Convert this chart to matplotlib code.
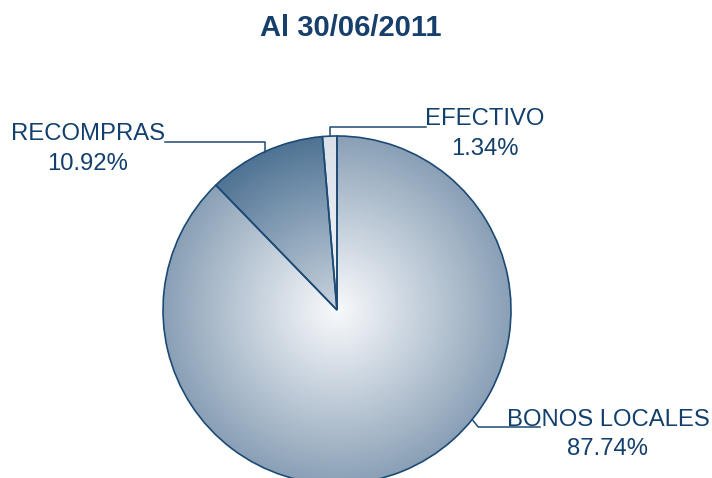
import numpy as np
import matplotlib
matplotlib.use("Agg")
import matplotlib.pyplot as plt
from matplotlib.colors import LinearSegmentedColormap

title = "Al 30/06/2011"
labels = ["BONOS LOCALES", "RECOMPRAS", "EFECTIVO"]
shares = [87.74, 10.92, 1.34]

# gradient colours per slice (centre -> edge)
grads = [("#f7f9fb", "#8aa0b6"), ("#c8d3de", "#4f7394"), ("#f3f5f8", "#d8e0e8")]
edge = "#1d4a75"
txt = "#123f6c"

plt.rcParams["font.family"] = ["Liberation Sans", "DejaVu Sans"]

W, H = 712, 478
fig = plt.figure(figsize=(W / 100, H / 100), dpi=100)
ax = fig.add_axes([0, 0, 1, 1])

cx, cy, R = 337, H - 310, 174

wedges, _ = ax.pie(shares, startangle=90, counterclock=False, center=(cx, cy),
                   radius=R, frame=True,
                   wedgeprops=dict(facecolor="none", edgecolor=edge, linewidth=1.2))

# radial gradient fill, clipped to each wedge
n = 400
xs = np.linspace(cx - R, cx + R, n)
ys = np.linspace(cy - R, cy + R, n)
X, Y = np.meshgrid(xs, ys)
r = np.clip(np.hypot(X - cx, Y - cy) / R, 0, 1) ** 1.05
for w, (c0, c1) in zip(wedges, grads):
    cmap = LinearSegmentedColormap.from_list("g", [c0, c1])
    im = ax.imshow(r, cmap=cmap, vmin=0, vmax=1, origin="lower",
                   extent=(cx - R, cx + R, cy - R, cy + R), zorder=0.5,
                   interpolation="bilinear")
    im.set_clip_path(w)
    w.set_zorder(1)

ax.set_xlim(0, W)
ax.set_ylim(0, H)
ax.set_aspect("equal")
ax.axis("off")

fs = 17.2
lw = 1.1

def anchor(w, ang=None):
    a = np.deg2rad((w.theta1 + w.theta2) / 2 if ang is None else ang)
    return cx + R * np.cos(a), cy + R * np.sin(a)

# RECOMPRAS
ax_, ay_ = anchor(wedges[1])
ax.plot([165, ax_, ax_], [H - 142, H - 142, ay_], color=edge, lw=lw)
ax.text(88, H - 134, labels[1], ha="center", va="center", fontsize=fs, color=txt)
ax.text(88, H - 164, f"{shares[1]:.2f}%", ha="center", va="center", fontsize=fs, color=txt)

# EFECTIVO
ex, ey = anchor(wedges[2])
ax.plot([ex, ex, 426], [ey, H - 127, H - 127], color=edge, lw=lw)
ax.text(485, H - 119, labels[2], ha="center", va="center", fontsize=fs, color=txt)
ax.text(485, H - 149, f"{shares[2]:.2f}%", ha="center", va="center", fontsize=fs, color=txt)

# BONOS LOCALES
bx, by = anchor(wedges[0], -39)
ax.plot([bx, bx + 6, 540], [by, H - 427, H - 427], color=edge, lw=lw)
ax.text(608, H - 420, labels[0], ha="center", va="center", fontsize=fs, color=txt)
ax.text(608, H - 449, f"{shares[0]:.2f}%", ha="center", va="center", fontsize=fs, color=txt)

ax.text(351, H - 28, title, ha="center", va="center", fontsize=21,
        fontweight="bold", color="#163f6b")

fig.savefig("out.png", dpi=100)
